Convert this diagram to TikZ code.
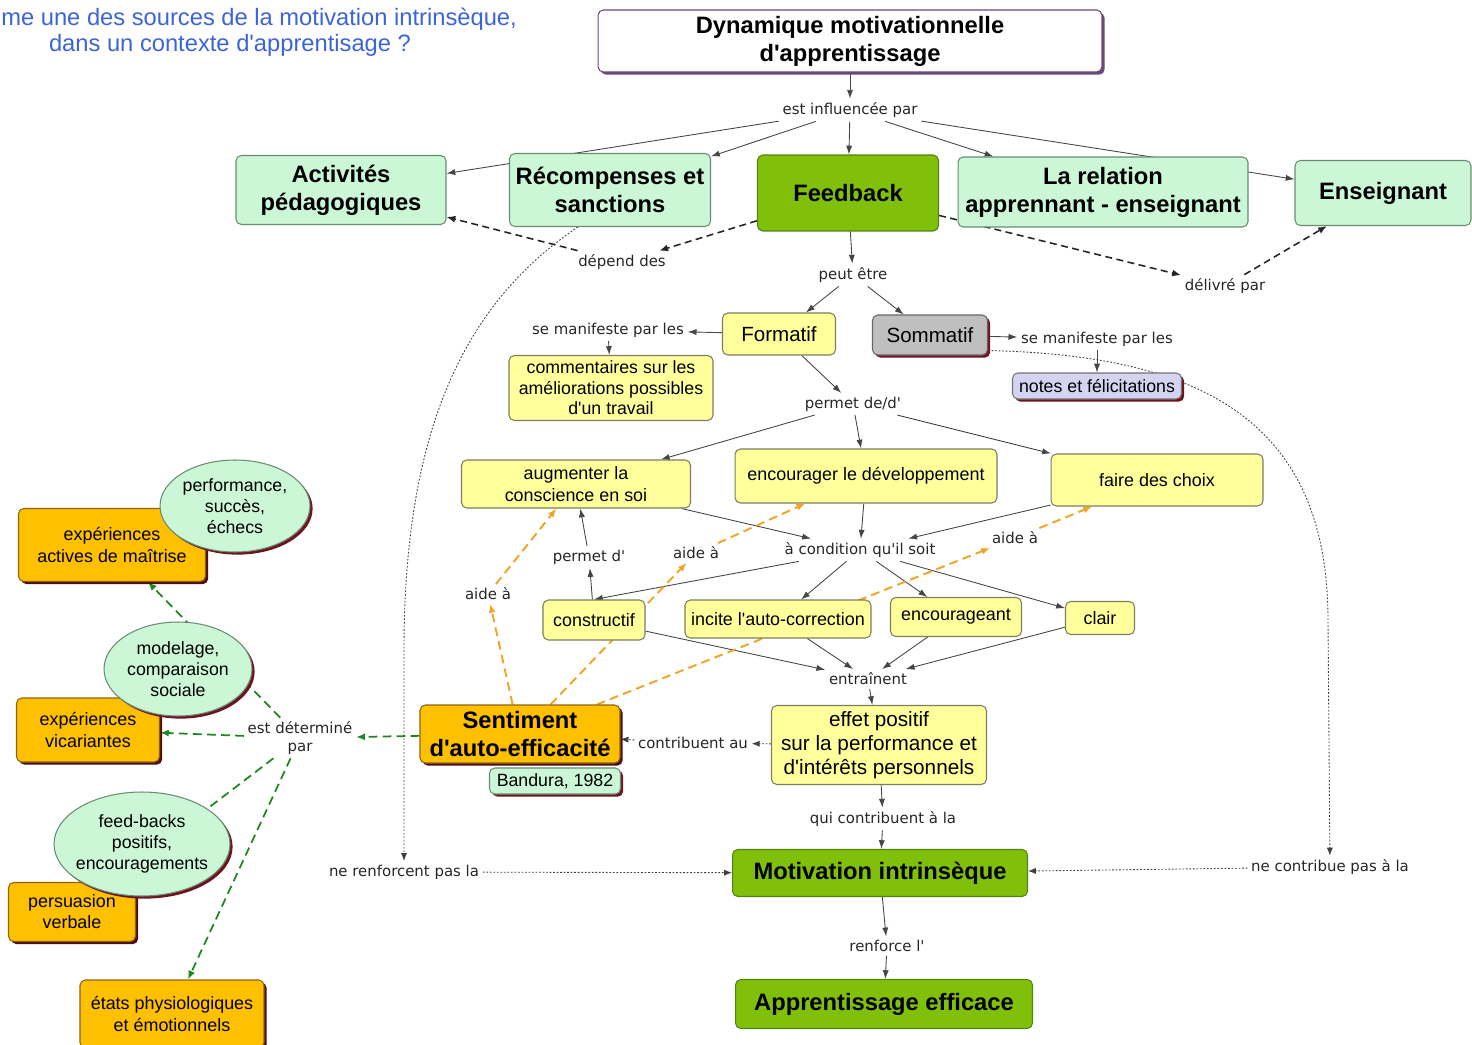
\documentclass[tikz,border=0pt]{standalone}
\usepackage{fontspec}
\setmainfont{Liberation Sans}[Ligatures=TeXOff]
\newfontfamily\linkfont{DejaVu Sans}
\usetikzlibrary{arrows.meta,backgrounds,shadows,shapes.geometric}

\definecolor{mint}{RGB}{204,247,214}
\definecolor{mintline}{RGB}{105,140,115}
\definecolor{leaf}{RGB}{128,192,10}
\definecolor{leafline}{RGB}{85,130,20}
\definecolor{lemon}{RGB}{255,255,156}
\definecolor{lemonline}{RGB}{125,125,95}
\definecolor{gold}{RGB}{255,192,0}
\definecolor{goldline}{RGB}{140,100,20}
\definecolor{wine}{RGB}{110,20,30}
\definecolor{lilac}{RGB}{212,212,240}
\definecolor{plum}{RGB}{110,70,120}
\definecolor{tangerine}{RGB}{240,165,40}
\definecolor{forest}{RGB}{30,135,30}
\definecolor{askblue}{RGB}{60,100,215}
\definecolor{wire}{RGB}{70,70,70}

\tikzset{
  mapbox/.style={draw, rounded corners=3pt, line width=0.6pt, align=center, inner sep=2pt},
  redshade/.style={general shadow={fill=wine, shadow xshift=1.5pt, shadow yshift=-1.5pt}},
  titlebox/.style={mapbox, fill=white, draw=plum, general shadow={fill=plum, shadow xshift=1.5pt, shadow yshift=-1.5pt}, font=\fontsize{13.5}{15.9}\selectfont\bfseries},
  concept/.style={mapbox, fill=mint, draw=mintline, font=\fontsize{13.5}{15.9}\selectfont\bfseries},
  keyconcept/.style={mapbox, fill=leaf, draw=leafline, font=\fontsize{13.5}{15.9}\selectfont\bfseries},
  yellowbox/.style={mapbox, fill=lemon, draw=lemonline, font=\fontsize{10.2}{12.4}\selectfont},
  greybox/.style={mapbox, fill=black!25, draw=black!60, redshade, font=\fontsize{11.7}{14}\selectfont},
  lilacbox/.style={mapbox, fill=lilac, draw=black!55, redshade, font=\fontsize{10.1}{12}\selectfont},
  refbox/.style={mapbox, fill=mint, draw=mintline, redshade, font=\fontsize{10.1}{12}\selectfont},
  orangebox/.style={mapbox, fill=gold, draw=goldline, general shadow={fill=wine!70!black, shadow xshift=1.5pt, shadow yshift=-1.5pt}, font=\fontsize{10.2}{12}\selectfont},
  bubble/.style={ellipse, draw=mintline, line width=0.6pt, fill=mint, redshade, align=center, inner sep=-3pt, font=\fontsize{10.1}{11.8}\selectfont},
  linkword/.style={font=\linkfont\fontsize{8.5}{10.2}\selectfont, text=black!85, inner sep=2pt, align=center},
  askline/.style={font=\fontsize{13.5}{15.3}\selectfont, text=askblue, inner sep=0pt},
  arrowlink/.style={draw=wire, line width=0.5pt, -{Latex[length=5pt,width=3.5pt]}},
  dashlink/.style={draw=black!85, line width=0.9pt, dash pattern=on 4pt off 2.5pt, -{Latex[length=5pt,width=4pt]}},
  aidelink/.style={draw=tangerine, line width=1.1pt, dash pattern=on 5pt off 3pt, -{Latex[length=5pt,width=4pt]}},
  detlink/.style={draw=forest, line width=1pt, dash pattern=on 5pt off 3pt, -{Latex[length=5pt,width=4pt]}},
  dotlink/.style={draw=black!75, line width=0.5pt, dash pattern=on 1pt off 1pt, -{Latex[length=4.5pt,width=3.5pt]}}
}

\begin{document}
\begin{tikzpicture}[x=0.02cm,y=-0.02cm]
\useasboundingbox (0,0) rectangle (1472,1045);

\node[askline, anchor=west] (ask1) at (1,19) {me une des sources de la motivation intrinsèque,};
\node[askline] (ask2) at (230,45) {dans un contexte d'apprentisage ?};

\node[titlebox, minimum width=10.08cm, minimum height=1.24cm] (dyn) at (850,41) {Dynamique motivationnelle\\d'apprentissage};

\node[concept, minimum width=4.2cm, minimum height=1.38cm] (act) at (341,190) {Activités\\pédagogiques};
\node[concept, minimum width=4.02cm, minimum height=1.46cm] (rec) at (610,190) {Récompenses et\\sanctions};
\node[keyconcept, minimum width=3.62cm, minimum height=1.52cm] (feed) at (848,193) {Feedback};
\node[concept, minimum width=5.8cm, minimum height=1.4cm] (rel) at (1103,192) {La relation\\apprennant - enseignant};
\node[concept, minimum width=3.52cm, minimum height=1.3cm] (ens) at (1383,193) {Enseignant};

\node[yellowbox, font=\fontsize{11.7}{14}\selectfont, minimum width=2.26cm, minimum height=0.84cm] (form) at (779,334) {Formatif};
\node[greybox, minimum width=2.3cm, minimum height=0.8cm] (somm) at (930,335) {Sommatif};
\node[yellowbox, font=\fontsize{10.1}{11.6}\selectfont, minimum width=4.08cm, minimum height=1.3cm] (comm) at (611,388) {commentaires sur les\\améliorations possibles\\d'un travail};
\node[lilacbox, minimum width=3.38cm, minimum height=0.52cm] (notes) at (1097,386) {notes et félicitations};

\node[yellowbox, minimum width=4.58cm, minimum height=0.96cm] (augm) at (576,484) {augmenter la\\conscience en soi};
\node[yellowbox, minimum width=5.24cm, minimum height=1.08cm] (devel) at (866,476) {encourager le développement};
\node[yellowbox, minimum width=4.24cm, minimum height=1.04cm] (choix) at (1157,480) {faire des choix};

\node[yellowbox, minimum width=2.04cm, minimum height=0.8cm] (constr) at (594,620) {constructif};
\node[yellowbox, minimum width=3.72cm, minimum height=0.76cm] (autocor) at (778,619) {incite l'auto-correction};
\node[yellowbox, minimum width=2.62cm, minimum height=0.78cm] (encour) at (956,617) {encourageant};
\node[yellowbox, minimum width=1.38cm, minimum height=0.66cm] (clair) at (1100,618) {clair};

\node[yellowbox, font=\fontsize{11.8}{13.6}\selectfont, minimum width=4.3cm, minimum height=1.58cm] (effet) at (879,745) {effet positif\\sur la performance et\\d'intérêts personnels};
\node[orangebox, font=\fontsize{13.5}{15.9}\selectfont\bfseries, minimum width=4cm, minimum height=1.16cm] (sent) at (520,734) {Sentiment\\d'auto-efficacité};
\node[refbox, minimum width=2.62cm, minimum height=0.52cm] (band) at (555,781) {Bandura, 1982};

\node[keyconcept, minimum width=5.9cm, minimum height=0.94cm] (motiv) at (880,873) {Motivation intrinsèque};
\node[keyconcept, minimum width=5.94cm, minimum height=0.98cm] (app) at (884,1004) {Apprentissage efficace};

\node[orangebox, minimum width=3.74cm, minimum height=1.46cm] (maitr) at (112,545) {expériences\\actives de maîtrise};
\node[orangebox, minimum width=2.86cm, minimum height=1.28cm] (vicar) at (88,730) {expériences\\vicariantes};
\node[orangebox, minimum width=2.54cm, minimum height=1.18cm] (pers) at (72,912) {persuasion\\verbale};
\node[orangebox, minimum width=3.68cm, minimum height=1.36cm] (etats) at (172,1014) {états physiologiques\\et émotionnels};

\node[bubble, minimum width=3cm, minimum height=1.84cm] (perf) at (235,506) {performance,\\succès,\\échecs};
\node[bubble, minimum width=2.96cm, minimum height=1.88cm] (model) at (178,669) {modelage,\\comparaison\\sociale};
\node[bubble, minimum width=3.52cm, minimum height=2.08cm] (fbk) at (142,844) {feed-backs\\positifs,\\encouragements};

\node[linkword] (infl) at (850,110) {est influencée par};
\node[linkword] (dep) at (622,262) {dépend des};
\node[linkword] (deliv) at (1225,286) {délivré par};
\node[linkword] (peut) at (853,275) {peut être};
\node[linkword] (manifa) at (608,330) {se manifeste par les};
\node[linkword] (manifb) at (1097,339) {se manifeste par les};
\node[linkword] (perm) at (853,404) {permet de/d'};
\node[linkword] (cond) at (860,550) {à condition qu'il soit};
\node[linkword] (permd) at (589,557) {permet d'};
\node[linkword] (aidea) at (488,594) {aide à};
\node[linkword] (aideb) at (696,553) {aide à};
\node[linkword] (aidec) at (1015,538) {aide à};
\node[linkword] (entr) at (868,679) {entraînent};
\node[linkword] (contr) at (693,743) {contribuent au};
\node[linkword] (qui) at (883,819) {qui contribuent à la};
\node[linkword] (renf) at (887,946) {renforce l'};
\node[linkword] (nerenf) at (404,872) {ne renforcent pas la};
\node[linkword] (necontr) at (1330,867) {ne contribue pas à la};
\node[linkword] (det) at (300,738) {est déterminé\\par};

\begin{scope}[on background layer]
\draw[arrowlink] (dyn) -- (infl);
\draw[arrowlink] (infl) -- (act);
\draw[arrowlink] (infl) -- (rec);
\draw[arrowlink] (infl) -- (feed);
\draw[arrowlink] (infl) -- (rel);
\draw[arrowlink] (infl) -- (ens);
\draw[dashlink] (feed) -- (dep);
\draw[dashlink] (dep) -- (act);
\draw[dashlink] (feed) -- (deliv);
\draw[dashlink] (deliv) -- (ens);
\draw[arrowlink] (feed) -- (peut);
\draw[arrowlink] (peut) -- (form);
\draw[arrowlink] (peut) -- (somm);
\draw[arrowlink] (form) -- (manifa);
\draw[arrowlink] (manifa) -- (comm);
\draw[arrowlink] (somm) -- (manifb);
\draw[arrowlink] (manifb) -- (notes);
\draw[arrowlink] (form) -- (perm);
\draw[arrowlink] (perm) -- (augm);
\draw[arrowlink] (perm) -- (devel);
\draw[arrowlink] (perm) -- (choix);
\draw[arrowlink] (augm) -- (cond);
\draw[arrowlink] (devel) -- (cond);
\draw[arrowlink] (choix) -- (cond);
\draw[arrowlink] (cond) -- (constr.north);
\draw[arrowlink] (cond) -- (autocor);
\draw[arrowlink] (cond) -- (encour);
\draw[arrowlink] (cond) -- (clair);
\draw[arrowlink] (constr) -- (permd);
\draw[arrowlink] (permd) -- (augm);
\draw[arrowlink] (constr) -- (entr);
\draw[arrowlink] (autocor) -- (entr);
\draw[arrowlink] (encour) -- (entr);
\draw[arrowlink] (clair) -- (entr);
\draw[arrowlink] (entr) -- (effet);
\draw[dotlink] (effet) -- (contr);
\draw[dotlink] (contr) -- (sent);
\draw[arrowlink] (effet) -- (qui);
\draw[arrowlink] (qui) -- (motiv);
\draw[arrowlink] (motiv) -- (renf);
\draw[arrowlink] (renf) -- (app);
\draw[dotlink] (rec.229) .. controls (470,300) and (404,420) .. (404,650) -- (nerenf);
\draw[dotlink] (nerenf) -- (motiv);
\draw[dotlink] (somm.345) .. controls (1200,355) and (1328,420) .. (1328,620) -- (necontr);
\draw[dotlink] (necontr) -- (motiv);
\draw[aidelink] (sent.104) -- (aidea);
\draw[aidelink] (aidea) -- (augm);
\draw[aidelink] (sent.44) -- (aideb);
\draw[aidelink] (aideb) -- (devel);
\draw[aidelink] (sent.21) -- (aidec);
\draw[aidelink] (aidec) -- (choix);
\draw[detlink] (sent) -- (det);
\draw[detlink] (det) -- (vicar);
\draw[detlink] (det) -- (maitr);
\draw[detlink] (det) -- (pers);
\draw[detlink] (det) -- (etats);
\end{scope}
\end{tikzpicture}
\end{document}
